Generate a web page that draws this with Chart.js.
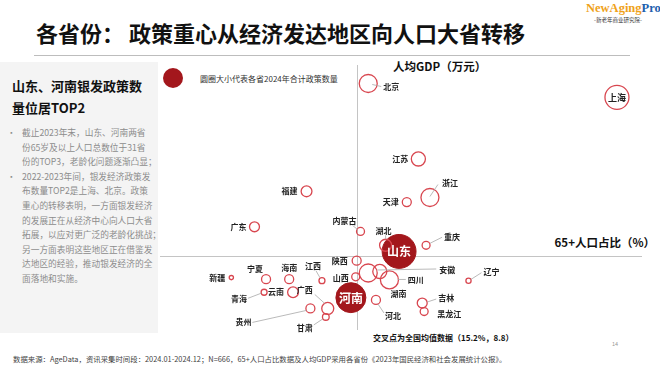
<!DOCTYPE html>
<html>
<head>
<meta charset="utf-8">
<script src="https://cdn.jsdelivr.net/npm/chart.js@4.4.1/dist/chart.umd.min.js"></script>
<style>
  body { margin: 0; width: 660px; height: 370px; background: #fff; overflow: hidden; position: relative;
         font-family: "Noto Sans CJK SC", "Noto Sans", sans-serif; }
  .abs { position: absolute; white-space: nowrap; }
  #panel { position: absolute; left: 0; top: 62px; width: 158px; height: 271px; background: #f4f4f4; }
  #chart { position: absolute; left: 0; top: 0; }
  .body-line { font-size: 8.7px; color: #8c8c8c; left: 22px; line-height: 1; transform: translateY(-50%); }
  .dot { font-size: 8.7px; color: #8c8c8c; left: 7px; line-height: 1; transform: translateY(-50%); }
</style>
</head>
<body>
<div id="panel"></div>

<div class="abs" style="left:36px;top:32px;transform:translateY(-50%);font-size:22px;font-weight:bold;color:#111;">各省份：&nbsp;政策重心从经济发达地区向人口大省转移</div>
<div class="abs" style="left:34px;top:55px;width:596px;height:1px;background:#bdbdbd;"></div>

<div class="abs" style="left:586px;top:2px;font-family:'Liberation Serif','DejaVu Serif',serif;font-weight:bold;font-size:12.5px;line-height:1;">
  <span style="color:#efa21a;">NewAging</span><span style="color:#2160ad;">Pro</span></div>
<div class="abs" style="left:594px;top:18px;font-size:5.5px;color:#333;line-height:1;">-新老年商业研究院-</div>

<div class="abs" style="left:12px;top:85px;transform:translateY(-50%);font-size:13px;font-weight:bold;color:#111;">山东、河南银发政策数</div>
<div class="abs" style="left:12px;top:107px;transform:translateY(-50%);font-size:13px;font-weight:bold;color:#111;">量位居TOP2</div>
<div id="bullets"></div>

<div class="abs" style="left:163px;top:68px;width:20px;height:20px;border-radius:50%;background:#a3171c;"></div>
<div class="abs" style="left:200px;top:78px;transform:translateY(-50%);font-size:8px;color:#333;">圆圈大小代表各省2024年合计政策数量</div>

<div class="abs" style="left:393px;top:66px;transform:translateY(-50%);font-size:11.5px;font-weight:bold;color:#111;">人均GDP（万元）</div>
<div class="abs" style="right:5px;top:242px;transform:translateY(-50%);font-size:11.5px;font-weight:bold;color:#111;">65+人口占比（%）</div>
<div class="abs" style="left:373px;top:337px;transform:translateY(-50%);font-size:8px;font-weight:bold;color:#111;">交叉点为全国均值数据（15.2%，8.8）</div>

<div class="abs" style="left:612px;top:344px;transform:translateY(-50%);font-size:5.5px;color:#999;">14</div>
<div class="abs" style="left:13px;top:358px;transform:translateY(-50%);font-size:7.4px;color:#444;">数据来源：AgeData，资讯采集时间段：2024.01-2024.12；N=666，65+人口占比数据及人均GDP采用各省份《2023年国民经济和社会发展统计公报》。</div>

<canvas id="chart" width="660" height="370"></canvas>

<script>
// provinces, 65+ share (%), GDP per capita (10k yuan), policy count 2024
const provinces = ['北京', '上海', '江苏', '浙江', '天津', '福建', '广东', '内蒙古', '湖北', '重庆',
                   '辽宁', '吉林', '黑龙江', '河北', '陕西', '山西', '安徽', '四川', '湖南', '江西',
                   '广西', '甘肃', '贵州', '云南', '青海', '宁夏', '海南', '新疆', '山东', '河南'];
const elderShare = [15.8, 28.7, 18.4, 19.0, 17.8, 12.6, 9.9, 15.4, 16.7, 18.8,
                    21.0, 18.6, 18.7, 16.2, 15.2, 15.15, 15.8, 16.4, 16.9, 13.4,
                    13.7, 13.6, 12.8, 11.9, 10.4, 10.5, 11.7, 8.7, 17.4, 14.9];
const gdpPerCapita = [20.0, 19.1, 15.1, 12.6, 12.3, 13.0, 10.7, 10.4, 9.5, 9.5,
                      7.2, 5.75, 5.2, 5.95, 8.5, 7.45, 7.7, 7.8, 7.25, 7.2,
                      5.4, 4.85, 5.4, 6.45, 6.45, 7.3, 7.3, 7.4, 9.1, 6.1];
const policyCount = [36, 64, 22, 36, 9, 13, 11, 7, 16, 7,
                     3, 11, 7, 9, 9, 7, 36, 22, 36, 4,
                     16, 5, 9, 13, 4, 9, 9, 2, 128, 100];
const topProvinces = ['山东', '河南'];
const avgShare = 15.2;
const avgGdp = 8.8;

const bulletLines = [
    ['•', '截止2023年末，山东、河南两省'],
    ['', '份65岁及以上人口总数位于31省'],
    ['', '份的TOP3，老龄化问题逐渐凸显；'],
    ['•', '2022-2023年间，银发经济政策发'],
    ['', '布数量TOP2是上海、北京。政策'],
    ['', '重心的转移表明，一方面银发经济'],
    ['', '的发展正在从经济中心向人口大省'],
    ['', '拓展，以应对更广泛的老龄化挑战；'],
    ['', '另一方面表明这些地区正在借鉴发'],
    ['', '达地区的经验，推动银发经济的全'],
    ['', '面落地和实施。']
];

// label placement: t = [dx, dy, align] from bubble centre, l = leader line [x1, y1, x2, y2]
const labelLayout = {
    '北京': { t: [15, 3, 'left'], l: [4, 1, 13, 3] },
    '上海': { inside: true, color: '#222', size: 9 },
    '江苏': { t: [-10, 0, 'right'] },
    '浙江': { t: [12, -15, 'left'], l: [0, -1, 8, -13] },
    '天津': { t: [-8, 0, 'right'] },
    '福建': { t: [-9, 0, 'right'] },
    '广东': { t: [-8, 0, 'right'] },
    '内蒙古': { t: [-16, -10, 'center'], l: [-8, -6, -3, -2] },
    '湖北': { t: [-2, -14, 'center'], l: [0, -10, 0, -6] },
    '重庆': { t: [18, -8, 'left'], l: [4, -2, 16, -8] },
    '辽宁': { t: [15, -9, 'left'], l: [2, -1, 13, -8] },
    '吉林': { t: [16, -5, 'left'], l: [5, -1, 14, -4] },
    '黑龙江': { t: [13, 2, 'left'] },
    '河北': { t: [9, 16, 'left'], l: [2, 4, 8, 13] },
    '陕西': { t: [-9, 0, 'right'] },
    '山西': { t: [-7, 1, 'right'] },
    '安徽': { t: [71, -3, 'left'], l: [9, -3, 68, -4] },
    '四川': { t: [28, 8, 'left'], l: [18, 8, 26, 8] },
    '湖南': { t: [9, 14, 'center'] },
    '江西': { t: [-9, -15, 'center'], l: [-2, -3, -6, -10] },
    '广西': { t: [-23, -18, 'center'], l: [-3, -5, -13, -14] },
    '甘肃': { t: [-21, 11, 'center'], l: [-3, 2, -12, 8] },
    '贵州': { t: [-67, 14, 'center'], l: [-4, 2, -58, 14] },
    '云南': { t: [-17, 0, 'center'] },
    '青海': { t: [-25, 7, 'center'], l: [-3, 1, -16, 6] },
    '宁夏': { t: [-11, -10, 'center'] },
    '海南': { t: [0, -11, 'center'] },
    '新疆': { t: [-14, 0, 'center'] },
    '山东': { inside: true, color: '#fff', size: 12 },
    '河南': { inside: true, color: '#fff', size: 12 }
};

// left panel text
const bulletBox = document.getElementById('bullets');
bulletLines.forEach((line, i) => {
    const top = 133 + i * 14.6;
    if (line[0]) {
        const d = document.createElement('div');
        d.className = 'abs dot';
        d.style.top = top + 'px';
        d.textContent = line[0];
        bulletBox.appendChild(d);
    }
    const t = document.createElement('div');
    t.className = 'abs body-line';
    t.style.top = top + 'px';
    t.textContent = line[1];
    bulletBox.appendChild(t);
});

const points = provinces.map((name, i) => ({
    x: elderShare[i],
    y: gdpPerCapita[i],
    r: 1.5 * Math.sqrt(policyCount[i]),
    name: name
}));

const crossLines = {
    id: 'crossLines',
    beforeDatasetsDraw(chart) {
        const { ctx, chartArea: a, scales: { x, y } } = chart;
        const px = Math.round(x.getPixelForValue(avgShare)) + 0.5;
        const py = Math.round(y.getPixelForValue(avgGdp)) + 0.5;
        ctx.save();
        ctx.strokeStyle = '#c4c4c4';
        ctx.lineWidth = 1;
        ctx.beginPath();
        ctx.moveTo(px, a.top);
        ctx.lineTo(px, a.bottom);
        ctx.moveTo(a.left, py);
        ctx.lineTo(a.right, py);
        ctx.stroke();
        ctx.restore();
    }
};

const bubbleLabels = {
    id: 'bubbleLabels',
    afterDatasetsDraw(chart) {
        const ctx = chart.ctx;
        ctx.save();
        ctx.textBaseline = 'middle';
        chart.data.datasets.forEach((ds, d) => {
            const meta = chart.getDatasetMeta(d);
            meta.data.forEach((el, i) => {
                const name = ds.data[i].name;
                const lay = labelLayout[name];
                if (!lay) return;
                if (lay.inside) {
                    ctx.font = 'bold ' + lay.size + 'px "Noto Sans CJK SC"';
                    ctx.fillStyle = lay.color;
                    ctx.textAlign = 'center';
                    ctx.fillText(name, el.x, el.y + 0.5);
                    return;
                }
                if (lay.l) {
                    ctx.strokeStyle = '#a8a8a8';
                    ctx.lineWidth = 0.8;
                    ctx.beginPath();
                    ctx.moveTo(el.x + lay.l[0], el.y + lay.l[1]);
                    ctx.lineTo(el.x + lay.l[2], el.y + lay.l[3]);
                    ctx.stroke();
                }
                ctx.font = 'bold 8px "Noto Sans CJK SC"';
                ctx.fillStyle = '#222';
                ctx.textAlign = lay.t[2];
                ctx.fillText(name, el.x + lay.t[0], el.y + lay.t[1]);
            });
        });
        ctx.restore();
    }
};

new Chart(document.getElementById('chart'), {
    type: 'bubble',
    data: {
        datasets: [{
            data: points.filter(p => !topProvinces.includes(p.name)),
            backgroundColor: 'rgba(255,255,255,0)',
            borderColor: '#d8464f',
            borderWidth: 1.3
        }, {
            data: points.filter(p => topProvinces.includes(p.name)),
            backgroundColor: '#a3171c',
            borderColor: '#a3171c',
            borderWidth: 1
        }]
    },
    options: {
        responsive: false,
        animation: false,
        events: [],
        clip: false,
        layout: { padding: { left: 160, top: 65, right: 5, bottom: 40 } },
        scales: {
            x: { type: 'linear', min: 5, max: 30, display: false },
            y: { type: 'linear', min: 4, max: 21.2, display: false }
        },
        plugins: { legend: { display: false }, tooltip: { enabled: false } }
    },
    plugins: [crossLines, bubbleLabels]
});
</script>
</body>
</html>
